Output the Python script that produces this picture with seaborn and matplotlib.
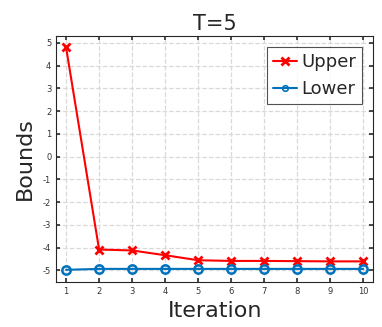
import matplotlib
matplotlib.use("Agg")
from matplotlib import pyplot as plt
import seaborn as sns
import pandas as pd

# values
iterations = [1, 2, 3, 4, 5, 6, 7, 8, 9, 10]
upper = [4.8, -4.08, -4.12, -4.33, -4.55, -4.58, -4.58, -4.59, -4.6, -4.6]
lower = [-4.97, -4.93, -4.93, -4.93, -4.93, -4.93, -4.93, -4.93, -4.93, -4.93]
y_ticks = [-5, -4, -3, -2, -1, 0, 1, 2, 3, 4, 5]

df = pd.DataFrame({"Iteration": iterations * 2,
                   "value": upper + lower,
                   "bound": ["Upper"] * len(upper) + ["Lower"] * len(lower)})

sns.set_theme(style="white")
plt.rcParams["font.family"] = ["DejaVu Sans"]
plt.rcParams["axes.unicode_minus"] = False

fig = plt.figure(figsize=(3.82, 3.27), dpi=100)
ax = fig.add_axes([0.147, 0.138, 0.83, 0.752])

sns.lineplot(x="Iteration", y="value", hue="bound", style="bound", data=df, ax=ax,
             palette={"Upper": "#ff0000", "Lower": "#0072bd"},
             markers={"Upper": "X", "Lower": "o"}, dashes=False,
             linewidth=1.5, markersize=6)

# matlab-like markers: thin x and open circle
for line in ax.lines:
    c = line.get_color()
    if line.get_marker() == "X":
        line.set_marker("x")
        line.set_markeredgewidth(2)
        line.set_markeredgecolor(c)
    elif line.get_marker() == "o":
        line.set_markerfacecolor("none")
        line.set_markeredgewidth(1.8)
        line.set_markeredgecolor(c)

ax.set_xlim(0.7, 10.3)
ax.set_ylim(-5.5, 5.3)
ax.set_xticks(iterations)
ax.set_yticks(y_ticks)
ax.tick_params(direction="in", length=3, labelsize=6, colors="#333333",
               top=True, right=True, bottom=True, left=True, labelcolor="#333333")
ax.grid(True, linestyle="--", color="#d9d9d9", linewidth=0.9)
for s in ax.spines.values():
    s.set_color("#262626")
    s.set_linewidth(0.8)

ax.set_title("T=5", fontsize=15, pad=4)
ax.set_xlabel("Iteration", fontsize=16, labelpad=4)
ax.set_ylabel("Bounds", fontsize=16, labelpad=6)

handles, labels = ax.get_legend_handles_labels()
for h in handles:
    c = h.get_color()
    if h.get_marker() == "X":
        h.set_marker("x")
        h.set_markeredgewidth(1.5)
        h.set_markeredgecolor(c)
        h.set_markersize(4)
    elif h.get_marker() == "o":
        h.set_markerfacecolor("none")
        h.set_markeredgewidth(1.2)
        h.set_markeredgecolor(c)
        h.set_markersize(4)
leg = ax.legend(handles, labels, loc="upper right", fontsize=13, frameon=True,
                fancybox=False, edgecolor="#262626", handlelength=1.3,
                handletextpad=0.25, borderpad=0.35, labelspacing=0.5,
                borderaxespad=0.6)
leg.get_frame().set_linewidth(0.8)

fig.savefig("out.png", dpi=100)
